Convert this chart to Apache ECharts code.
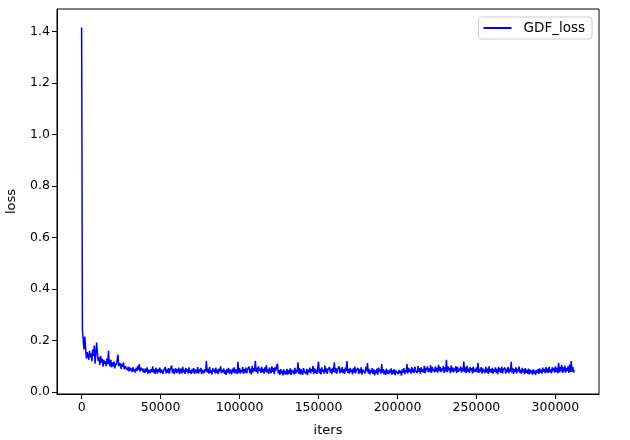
<!DOCTYPE html>
<html>
<head>
<meta charset="utf-8">
<script src="https://cdn.jsdelivr.net/npm/echarts@6/dist/echarts.min.js"></script>
<style>
  html, body { margin: 0; padding: 0; background: #fff; }
  #chart { width: 630px; height: 440px; }
</style>
</head>
<body>
<div id="chart"></div>
<script>
const iterStep = 500
const lossValues = [
  1.415, 0.24, 0.2, 0.165, 0.215, 0.17, 0.13, 0.155, 0.14, 0.125,
  0.16, 0.135, 0.15, 0.12, 0.165, 0.14, 0.18, 0.11, 0.15, 0.192,
  0.15, 0.12, 0.135, 0.105, 0.14, 0.115, 0.13, 0.098, 0.125, 0.11,
  0.12, 0.1, 0.13, 0.108, 0.16, 0.112, 0.1, 0.125, 0.096, 0.115,
  0.1, 0.118, 0.092, 0.112, 0.104, 0.125, 0.145, 0.1, 0.095, 0.112,
  0.09, 0.108, 0.098, 0.115, 0.088, 0.1, 0.093, 0.106, 0.085, 0.098,
  0.08, 0.095, 0.083, 0.092, 0.077, 0.096, 0.081, 0.089, 0.075, 0.094,
  0.082, 0.1, 0.086, 0.108, 0.079, 0.095, 0.084, 0.092, 0.076, 0.09,
  0.074, 0.091, 0.079, 0.096, 0.071, 0.086, 0.093, 0.073, 0.089, 0.078,
  0.1, 0.075, 0.088, 0.07, 0.094, 0.082, 0.072, 0.09, 0.077, 0.095,
  0.073, 0.087, 0.092, 0.07, 0.085, 0.078, 0.097, 0.072, 0.088, 0.075,
  0.093, 0.071, 0.086, 0.08, 0.103, 0.074, 0.09, 0.069, 0.084, 0.092,
  0.073, 0.089, 0.076, 0.095, 0.07, 0.083, 0.091, 0.072, 0.098, 0.077,
  0.086, 0.07, 0.094, 0.079, 0.088, 0.071, 0.096, 0.075, 0.085, 0.069,
  0.09, 0.076, 0.093, 0.07, 0.087, 0.082, 0.074, 0.097, 0.071, 0.088,
  0.078, 0.094, 0.069, 0.086, 0.092, 0.073, 0.089, 0.08, 0.12, 0.076,
  0.09, 0.071, 0.097, 0.075, 0.085, 0.068, 0.093, 0.079, 0.088, 0.072,
  0.095, 0.074, 0.087, 0.069, 0.091, 0.08, 0.1, 0.073, 0.086, 0.077,
  0.092, 0.07, 0.084, 0.066, 0.089, 0.075, 0.094, 0.071, 0.087, 0.079,
  0.069, 0.091, 0.076, 0.096, 0.072, 0.088, 0.081, 0.07, 0.117, 0.074,
  0.093, 0.071, 0.086, 0.078, 0.097, 0.07, 0.089, 0.075, 0.095, 0.072,
  0.087, 0.08, 0.099, 0.073, 0.09, 0.068, 0.102, 0.076, 0.093, 0.081,
  0.121, 0.078, 0.095, 0.072, 0.1, 0.083, 0.091, 0.074, 0.098, 0.077,
  0.09, 0.071, 0.096, 0.079, 0.104, 0.075, 0.088, 0.07, 0.095, 0.082,
  0.073, 0.1, 0.078, 0.093, 0.069, 0.097, 0.083, 0.1, 0.11, 0.072,
  0.085, 0.066, 0.089, 0.072, 0.083, 0.064, 0.088, 0.07, 0.081, 0.068,
  0.09, 0.067, 0.084, 0.072, 0.092, 0.066, 0.087, 0.074, 0.083, 0.069,
  0.094, 0.071, 0.086, 0.077, 0.115, 0.07, 0.092, 0.068, 0.088, 0.075,
  0.067, 0.093, 0.079, 0.086, 0.071, 0.09, 0.065, 0.087, 0.076, 0.095,
  0.072, 0.089, 0.08, 0.101, 0.069, 0.092, 0.075, 0.086, 0.07, 0.094,
  0.118, 0.073, 0.09, 0.068, 0.096, 0.079, 0.087, 0.071, 0.103, 0.076,
  0.092, 0.07, 0.088, 0.082, 0.097, 0.074, 0.09, 0.069, 0.094, 0.078,
  0.115, 0.075, 0.093, 0.071, 0.086, 0.08, 0.1, 0.072, 0.091, 0.077,
  0.097, 0.073, 0.088, 0.07, 0.095, 0.081, 0.12, 0.074, 0.089, 0.071,
  0.094, 0.078, 0.087, 0.068, 0.092, 0.076, 0.099, 0.072, 0.085, 0.079,
  0.093, 0.07, 0.089, 0.074, 0.096, 0.067, 0.087, 0.08, 0.091, 0.072,
  0.098, 0.081, 0.112, 0.072, 0.09, 0.068, 0.085, 0.076, 0.093, 0.07,
  0.088, 0.064, 0.084, 0.073, 0.091, 0.067, 0.095, 0.079, 0.087, 0.071,
  0.108, 0.075, 0.089, 0.068, 0.084, 0.066, 0.091, 0.072, 0.083, 0.069,
  0.087, 0.074, 0.092, 0.067, 0.085, 0.071, 0.089, 0.065, 0.083, 0.076,
  0.09, 0.07, 0.086, 0.073, 0.082, 0.064, 0.088, 0.075, 0.093, 0.069,
  0.085, 0.077, 0.108, 0.072, 0.094, 0.079, 0.088, 0.071, 0.097, 0.076,
  0.091, 0.073, 0.098, 0.082, 0.089, 0.074, 0.101, 0.078, 0.093, 0.071,
  0.096, 0.079, 0.088, 0.075, 0.102, 0.073, 0.094, 0.084, 0.099, 0.076,
  0.092, 0.078, 0.104, 0.074, 0.097, 0.082, 0.09, 0.076, 0.1, 0.079,
  0.094, 0.075, 0.105, 0.081, 0.098, 0.077, 0.092, 0.083, 0.101, 0.074,
  0.097, 0.08, 0.125, 0.077, 0.099, 0.084, 0.094, 0.073, 0.103, 0.079,
  0.096, 0.076, 0.092, 0.081, 0.1, 0.074, 0.098, 0.078, 0.091, 0.082,
  0.099, 0.075, 0.094, 0.08, 0.118, 0.077, 0.096, 0.073, 0.102, 0.079,
  0.091, 0.074, 0.097, 0.082, 0.093, 0.072, 0.099, 0.077, 0.088, 0.08,
  0.095, 0.076, 0.113, 0.074, 0.09, 0.079, 0.097, 0.071, 0.092, 0.078,
  0.087, 0.073, 0.098, 0.076, 0.091, 0.07, 0.1, 0.077, 0.089, 0.074,
  0.094, 0.071, 0.088, 0.079, 0.096, 0.073, 0.09, 0.069, 0.097, 0.078,
  0.092, 0.074, 0.099, 0.072, 0.087, 0.08, 0.095, 0.071, 0.09, 0.077,
  0.098, 0.073, 0.091, 0.079, 0.117, 0.075, 0.093, 0.07, 0.089, 0.078,
  0.096, 0.072, 0.09, 0.08, 0.099, 0.074, 0.087, 0.071, 0.094, 0.076,
  0.089, 0.069, 0.093, 0.075, 0.086, 0.07, 0.091, 0.068, 0.087, 0.073,
  0.084, 0.067, 0.088, 0.072, 0.083, 0.066, 0.086, 0.074, 0.089, 0.07,
  0.092, 0.075, 0.087, 0.071, 0.095, 0.078, 0.089, 0.073, 0.097, 0.076,
  0.091, 0.074, 0.099, 0.077, 0.088, 0.072, 0.096, 0.081, 0.093, 0.075,
  0.1, 0.078, 0.094, 0.073, 0.113, 0.076, 0.098, 0.08, 0.105, 0.074,
  0.096, 0.079, 0.102, 0.075, 0.093, 0.082, 0.099, 0.074, 0.106, 0.078,
  0.12, 0.079, 0.098, 0.076, 0.084
]
const xTicks = [0, 50000, 100000, 150000, 200000, 250000, 300000]
const yTicks = [0, 0.2, 0.4, 0.6, 0.8, 1.0, 1.2, 1.4]

const points = lossValues.map((v, i) => [i * iterStep, v])
const font = 'DejaVu Sans'

const myChart = echarts.init(document.getElementById('chart'))
myChart.setOption({
  animation: false,
  textStyle: { fontFamily: font, color: '#000' },
  grid: {
    left: 57,
    right: 31,
    top: 9,
    bottom: 46,
    outerBoundsMode: 'none',
    containLabel: false,
    show: true,
    borderColor: '#000',
    borderWidth: 1
  },
  legend: {
    right: 38,
    top: 17,
    padding: [4, 7, 4, 5],
    borderColor: '#cccccc',
    borderWidth: 1,
    borderRadius: 3,
    backgroundColor: 'rgba(255,255,255,0.8)',
    itemWidth: 28,
    itemHeight: 2,
    textStyle: { fontFamily: font, fontSize: 13.5, color: '#000', padding: [0, 0, 0, 7] },
    data: [{ name: 'GDF_loss', icon: 'rect' }]
  },
  xAxis: {
    type: 'value',
    min: -15600,
    max: 327600,
    name: 'iters',
    nameLocation: 'middle',
    nameGap: 30,
    nameTextStyle: { fontFamily: font, fontSize: 13, color: '#000' },
    splitLine: { show: false },
    axisLine: { show: true, onZero: false, lineStyle: { color: '#000', width: 1 } },
    axisTick: { show: true, length: 5, customValues: xTicks, lineStyle: { color: '#000' } },
    axisLabel: {
      customValues: xTicks,
      fontFamily: font,
      fontSize: 12.5,
      color: '#000',
      margin: 7,
      formatter: v => String(v)
    }
  },
  yAxis: {
    type: 'value',
    min: -0.0078,
    max: 1.487,
    name: 'loss',
    nameLocation: 'middle',
    nameGap: 39,
    nameTextStyle: { fontFamily: font, fontSize: 13, color: '#000' },
    splitLine: { show: false },
    axisLine: { show: true, onZero: false, lineStyle: { color: '#000', width: 1 } },
    axisTick: { show: true, length: 5, customValues: yTicks, lineStyle: { color: '#000' } },
    axisLabel: {
      customValues: yTicks,
      fontFamily: font,
      fontSize: 12.5,
      color: '#000',
      margin: 7,
      formatter: v => v.toFixed(1)
    }
  },
  series: [{
    name: 'GDF_loss',
    type: 'line',
    data: points,
    showSymbol: false,
    symbol: 'none',
    color: '#0000ff',
    lineStyle: { color: '#0000ff', width: 1.5 }
  }]
})
</script>
</body>
</html>
